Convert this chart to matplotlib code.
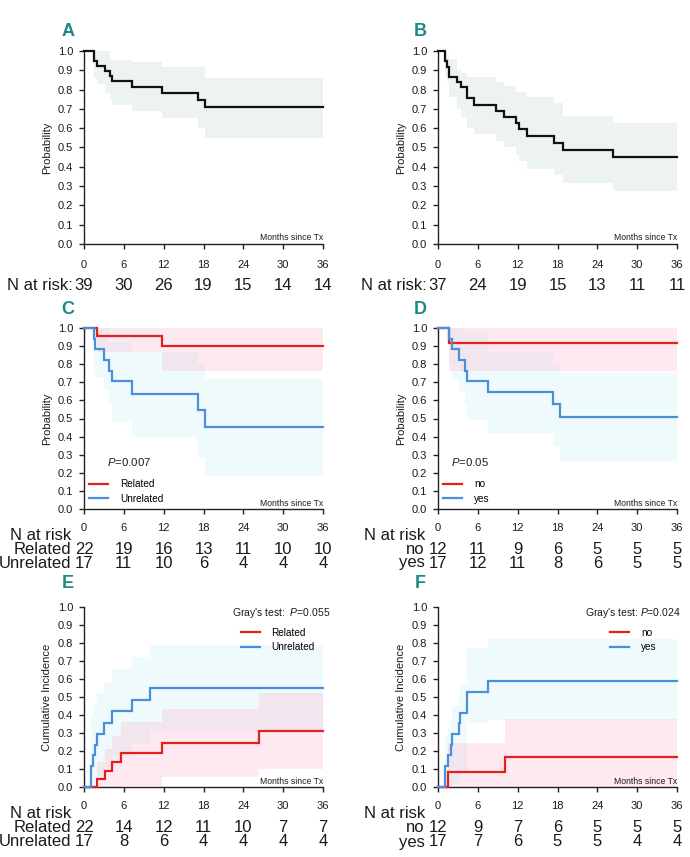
import numpy as np
import matplotlib
matplotlib.use('Agg')
import matplotlib.pyplot as plt
from matplotlib.transforms import blended_transform_factory
from matplotlib.lines import Line2D

plt.rcParams['font.family'] = ['Liberation Sans', 'DejaVu Sans']
plt.rcParams['mathtext.fontset'] = 'custom'
plt.rcParams['mathtext.it'] = 'Liberation Sans:italic'
plt.rcParams['mathtext.rm'] = 'Liberation Sans'

# ---------------- data ----------------
months_ticks = [0, 6, 12, 18, 24, 30, 36]
prob_ticks = [0.0, 0.1, 0.2, 0.3, 0.4, 0.5, 0.6, 0.7, 0.8, 0.9, 1.0]
MAX_MONTH = 36

# Panel A (overall)
A_t = [0, 1.5, 1.9, 3.1, 3.9, 4.2, 7.3, 11.7, 17.2, 18.3]
A_s = [1.0, 0.949, 0.923, 0.897, 0.872, 0.846, 0.815, 0.783, 0.748, 0.708]
A_up = [1.0, 1.0, 1.0, 1.0, 0.96, 0.955, 0.945, 0.917, 0.917, 0.862]
A_lo = [1.0, 0.86, 0.83, 0.78, 0.75, 0.72, 0.69, 0.655, 0.60, 0.55]
A_risk = [39, 30, 26, 19, 15, 14, 14]

# Panel B
B_t = [0, 1.0, 1.3, 1.6, 2.8, 3.4, 4.3, 5.4, 8.8, 10.0, 11.7, 12.2, 13.4, 17.4, 18.9, 26.4]
B_s = [1.0, 0.946, 0.919, 0.865, 0.838, 0.811, 0.757, 0.721, 0.69, 0.656, 0.625, 0.594, 0.56, 0.523, 0.487, 0.45]
B_up = [1.0, 1.0, 0.98, 0.96, 0.90, 0.885, 0.866, 0.866, 0.84, 0.817, 0.788, 0.788, 0.762, 0.731, 0.663, 0.628]
B_lo = [1.0, 0.87, 0.84, 0.76, 0.70, 0.66, 0.60, 0.57, 0.535, 0.50, 0.465, 0.43, 0.39, 0.355, 0.315, 0.277]
B_risk = [37, 24, 19, 15, 13, 11, 11]

# Panel C (Related / Unrelated)
C_rel_t = [0, 1.9, 11.7]
C_rel_s = [1.0, 0.955, 0.9]
C_rel_up = [1.0, 1.0, 1.0]
C_rel_lo = [1.0, 0.87, 0.765]
C_unr_t = [0, 1.5, 1.7, 3.0, 3.8, 4.2, 7.3, 17.1, 18.3]
C_unr_s = [1.0, 0.941, 0.882, 0.824, 0.765, 0.706, 0.635, 0.545, 0.454]
C_unr_up = [1.0, 1.0, 1.0, 1.0, 0.92, 0.92, 0.87, 0.80, 0.72]
C_unr_lo = [1.0, 0.76, 0.73, 0.66, 0.585, 0.48, 0.40, 0.28, 0.18]
C_risk_rel = [22, 19, 16, 13, 11, 10, 10]
C_risk_unr = [17, 11, 10, 6, 4, 4, 4]

# Panel D (no / yes)
D_no_t = [0, 1.6]
D_no_s = [1.0, 0.917]
D_no_up = [1.0, 1.0]
D_no_lo = [1.0, 0.765]
D_yes_t = [0, 1.6, 2.1, 3.1, 4.0, 4.3, 7.6, 17.3, 18.4]
D_yes_s = [1.0, 0.941, 0.882, 0.824, 0.765, 0.706, 0.647, 0.58, 0.51]
D_yes_up = [1.0, 1.0, 1.0, 1.0, 0.97, 0.97, 0.87, 0.80, 0.755]
D_yes_lo = [1.0, 0.80, 0.72, 0.65, 0.58, 0.49, 0.42, 0.35, 0.265]
D_risk_no = [12, 11, 9, 6, 5, 5, 5]
D_risk_yes = [17, 12, 11, 8, 6, 5, 5]

# Panel E (cumulative incidence, Related / Unrelated)
E_rel_t = [0, 2.0, 3.2, 4.2, 5.6, 11.7, 26.3]
E_rel_c = [0.0, 0.045, 0.091, 0.14, 0.19, 0.245, 0.31]
E_rel_up = [0.0, 0.14, 0.21, 0.285, 0.36, 0.435, 0.52]
E_rel_lo = [0.0, 0.0, 0.0, 0.0, 0.005, 0.056, 0.10]
E_unr_t = [0, 1.05, 1.4, 1.6, 2.0, 3.0, 4.2, 7.3, 9.9]
E_unr_c = [0.0, 0.118, 0.176, 0.235, 0.294, 0.353, 0.42, 0.485, 0.55]
E_unr_up = [0.0, 0.40, 0.45, 0.48, 0.52, 0.58, 0.655, 0.725, 0.79]
E_unr_lo = [0.0, 0.0, 0.0, 0.02, 0.06, 0.11, 0.17, 0.24, 0.31]
E_risk_rel = [22, 14, 12, 11, 10, 7, 7]
E_risk_unr = [17, 8, 6, 4, 4, 4, 4]

# Panel F (cumulative incidence, no / yes)
F_no_t = [0, 1.55, 10.1]
F_no_c = [0.0, 0.083, 0.167]
F_no_up = [0.0, 0.243, 0.38]
F_no_lo = [0.0, 0.0, 0.0]
F_yes_t = [0, 1.05, 1.45, 1.95, 2.15, 3.1, 3.35, 4.3, 7.5]
F_yes_c = [0.0, 0.118, 0.176, 0.235, 0.294, 0.353, 0.412, 0.53, 0.59]
F_yes_up = [0.0, 0.28, 0.33, 0.38, 0.45, 0.51, 0.58, 0.77, 0.824]
F_yes_lo = [0.0, 0.0, 0.0, 0.0, 0.02, 0.05, 0.09, 0.355, 0.375]
F_risk_no = [12, 9, 7, 6, 5, 5, 5]
F_risk_yes = [17, 7, 6, 5, 5, 4, 4]

# ---------------- style ----------------
RED = '#e3201b'
BLUE = '#4a8fdb'
BLACK = '#111111'
GREY_BAND = '#edf2f2'
TEAL = '#1b8a86'
TXT = '#1a1a1a'

W, H = 690, 857
fig = plt.figure(figsize=(6.9, 8.57), dpi=100)


def fx(px):
    return px / W


def fy(py):
    return 1 - py / H


def ext(t, v):
    return list(t) + [MAX_MONTH], list(v) + [v[-1]]


def make_ax(left, top, bottom, right, ylabel, xpad):
    ax = fig.add_axes([fx(left), fy(bottom), (right - left) / W, (bottom - top) / H])
    ax.set_xlim(0, MAX_MONTH)
    ax.set_ylim(0, 1)
    for s in ['top', 'right']:
        ax.spines[s].set_visible(False)
    for s in ['left', 'bottom']:
        ax.spines[s].set_linewidth(1.0)
        ax.spines[s].set_color('#222222')
    ax.set_xticks(months_ticks)
    ax.set_yticks(prob_ticks)
    ax.set_yticklabels(['%.1f' % v for v in prob_ticks])
    ax.tick_params(axis='both', direction='out', length=3.6, width=1.0, color='#222222',
                   labelsize=8, labelcolor=TXT)
    ax.tick_params(axis='x', pad=xpad)
    ax.tick_params(axis='y', pad=4.2)
    ax.set_ylabel(ylabel, fontsize=8, color=TXT, labelpad=4)
    ax.text(1.0, 0.008, 'Months since Tx', transform=ax.transAxes, ha='right', va='bottom',
            fontsize=6.2, color=TXT)
    ax.set_facecolor('none')
    return ax


def band(ax, t, lo, up, color, alpha):
    tt, ll = ext(t, lo)
    _, uu = ext(t, up)
    ax.fill_between(tt, ll, uu, step='post', color=color, alpha=alpha, lw=0, zorder=1)


def curve(ax, t, v, color, lw=1.6):
    tt, vv = ext(t, v)
    ln, = ax.step(tt, vv, where='post', color=color, lw=lw, zorder=3, clip_on=False,
                  solid_joinstyle='miter')
    return ln


def letter(px, py, s):
    fig.text(fx(px), fy(py), s, ha='center', va='center', fontsize=13, fontweight='bold',
             color=TEAL, family=['Liberation Sans Narrow', 'Liberation Sans', 'DejaVu Sans'])


def risk_row(ax, label, values, py, label_right, size=12):
    tr = blended_transform_factory(ax.transData, fig.transFigure)
    for m, v in zip(months_ticks, values):
        ax.text(m, fy(py), str(v), transform=tr, ha='center', va='center', fontsize=size,
                color=TXT, clip_on=False)
    fig.text(fx(label_right), fy(py), label, ha='right', va='center', fontsize=size, color=TXT)


PINK_C, PINK_A = '#ff5a8c', 0.13
BLUE_C, BLUE_A = '#3cc8f0', 0.08

# ---------------- Panel A ----------------
axA = make_ax(84, 51, 244, 323, 'Probability', 8.2)
band(axA, A_t, A_lo, A_up, GREY_BAND, 1.0)
curve(axA, A_t, A_s, BLACK)
letter(68, 31, 'A')
trA = blended_transform_factory(axA.transData, fig.transFigure)
for m, v in zip(months_ticks, A_risk):
    axA.text(m, fy(286), str(v), transform=trA, ha='center', va='center', fontsize=12, color=TXT)
fig.text(fx(73), fy(286), 'N at risk:', ha='right', va='center', fontsize=12, color=TXT)

# ---------------- Panel B ----------------
axB = make_ax(438, 51, 244, 677, 'Probability', 8.2)
band(axB, B_t, B_lo, B_up, GREY_BAND, 1.0)
curve(axB, B_t, B_s, BLACK)
letter(420, 31, 'B')
trB = blended_transform_factory(axB.transData, fig.transFigure)
for m, v in zip(months_ticks, B_risk):
    axB.text(m, fy(286), str(v), transform=trB, ha='center', va='center', fontsize=12, color=TXT)
fig.text(fx(427), fy(286), 'N at risk:', ha='right', va='center', fontsize=12, color=TXT)

# ---------------- Panel C ----------------
axC = make_ax(84, 328, 509, 323, 'Probability', 6.6)
band(axC, C_unr_t, C_unr_lo, C_unr_up, BLUE_C, BLUE_A)
band(axC, C_rel_t, C_rel_lo, C_rel_up, PINK_C, PINK_A)
curve(axC, C_rel_t, C_rel_s, RED)
curve(axC, C_unr_t, C_unr_s, BLUE)
axC.legend([Line2D([], [], color=RED, lw=1.6), Line2D([], [], color=BLUE, lw=1.6)],
           ['Related', 'Unrelated'], loc='lower left', bbox_to_anchor=(0.022, 0.03),
           frameon=False, fontsize=7.2, handlelength=1.9, handletextpad=1.2,
           labelspacing=0.45, borderaxespad=0, borderpad=0)
axC.text(0.096, 0.262, r'$\it{P}$=0.007', transform=axC.transAxes, ha='left', va='center',
         fontsize=8.2, color=TXT)
letter(68, 309, 'C')
fig.text(fx(71), fy(535), 'N at risk', ha='right', va='center', fontsize=12, color=TXT)
risk_row(axC, 'Related', C_risk_rel, 549, 71)
risk_row(axC, 'Unrelated', C_risk_unr, 563, 71)

# ---------------- Panel D ----------------
axD = make_ax(438, 328, 509, 677, 'Probability', 6.6)
band(axD, D_yes_t, D_yes_lo, D_yes_up, BLUE_C, BLUE_A)
band(axD, D_no_t, D_no_lo, D_no_up, PINK_C, PINK_A)
curve(axD, D_no_t, D_no_s, RED)
curve(axD, D_yes_t, D_yes_s, BLUE)
axD.legend([Line2D([], [], color=RED, lw=1.6), Line2D([], [], color=BLUE, lw=1.6)],
           ['no', 'yes'], loc='lower left', bbox_to_anchor=(0.022, 0.03),
           frameon=False, fontsize=7.2, handlelength=1.9, handletextpad=1.2,
           labelspacing=0.45, borderaxespad=0, borderpad=0)
axD.text(0.054, 0.262, r'$\it{P}$=0.05', transform=axD.transAxes, ha='left', va='center',
         fontsize=8.2, color=TXT)
letter(420, 309, 'D')
fig.text(fx(425), fy(535), 'N at risk', ha='right', va='center', fontsize=12, color=TXT)
risk_row(axD, 'no', D_risk_no, 549, 425)
risk_row(axD, 'yes', D_risk_yes, 563, 425)

# ---------------- Panel E ----------------
axE = make_ax(84, 607, 787, 323, 'Cumulative Incidence', 6.6)
band(axE, E_unr_t, E_unr_lo, E_unr_up, BLUE_C, BLUE_A)
band(axE, E_rel_t, E_rel_lo, E_rel_up, PINK_C, PINK_A)
curve(axE, E_rel_t, E_rel_c, RED)
curve(axE, E_unr_t, E_unr_c, BLUE)
axE.legend([Line2D([], [], color=RED, lw=1.6), Line2D([], [], color=BLUE, lw=1.6)],
           ['Related', 'Unrelated'], loc='upper left', bbox_to_anchor=(0.655, 0.885),
           frameon=False, fontsize=7.2, handlelength=1.9, handletextpad=1.2,
           labelspacing=0.45, borderaxespad=0, borderpad=0)
axE.text(1.03, 0.967, "Gray's test:  " + r'$\it{P}$=0.055', transform=axE.transAxes,
         ha='right', va='center', fontsize=7.5, color=TXT)
letter(68, 583, 'E')
fig.text(fx(71), fy(813), 'N at risk', ha='right', va='center', fontsize=12, color=TXT)
risk_row(axE, 'Related', E_risk_rel, 827, 71)
risk_row(axE, 'Unrelated', E_risk_unr, 842, 71)

# ---------------- Panel F ----------------
axF = make_ax(438, 607, 787, 677, 'Cumulative Incidence', 6.6)
band(axF, F_yes_t, F_yes_lo, F_yes_up, BLUE_C, BLUE_A)
band(axF, F_no_t, F_no_lo, F_no_up, PINK_C, PINK_A)
curve(axF, F_no_t, F_no_c, RED)
curve(axF, F_yes_t, F_yes_c, BLUE)
axF.legend([Line2D([], [], color=RED, lw=1.6), Line2D([], [], color=BLUE, lw=1.6)],
           ['no', 'yes'], loc='upper left', bbox_to_anchor=(0.72, 0.885),
           frameon=False, fontsize=7.2, handlelength=1.9, handletextpad=1.2,
           labelspacing=0.45, borderaxespad=0, borderpad=0)
axF.text(1.017, 0.967, "Gray's test: " + r'$\it{P}$=0.024', transform=axF.transAxes,
         ha='right', va='center', fontsize=7.5, color=TXT)
letter(420, 583, 'F')
fig.text(fx(425), fy(813), 'N at risk', ha='right', va='center', fontsize=12, color=TXT)
risk_row(axF, 'no', F_risk_no, 827, 425)
risk_row(axF, 'yes', F_risk_yes, 842, 425)

fig.savefig('out.png', dpi=100, facecolor='white')
